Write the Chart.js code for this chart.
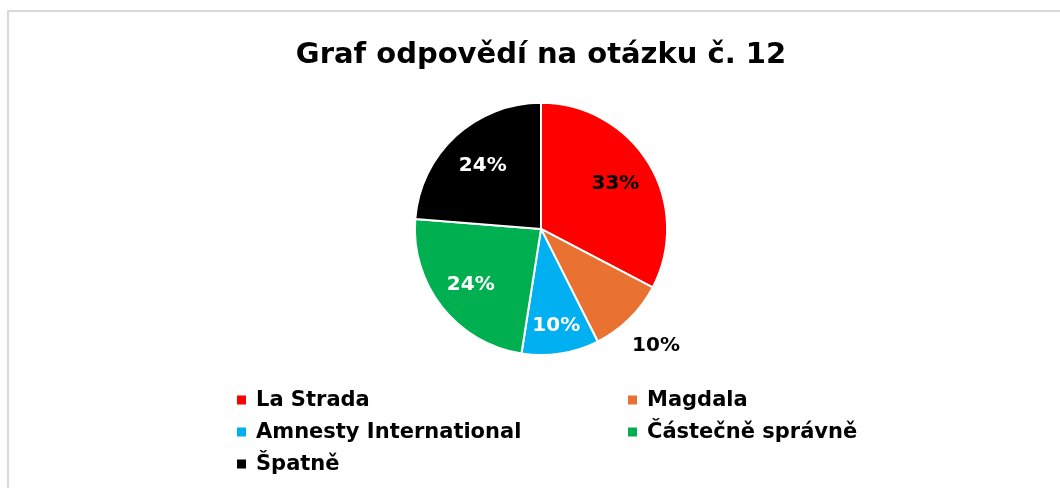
<!DOCTYPE html>
<html>
<head>
<meta charset="utf-8">
<script src="https://cdn.jsdelivr.net/npm/chart.js@4.4.1/dist/chart.umd.min.js"></script>
<style>
  html, body { margin: 0; padding: 0; background: #fff; }
  #wrap { position: relative; width: 1060px; height: 488px; overflow: hidden; }
  #frame {
    position: absolute; left: 7px; top: 10px; width: 1100px; height: 520px;
    border-left: 2px solid #d9d9d9; border-top: 2px solid #d9d9d9;
    pointer-events: none;
  }
  canvas { position: absolute; left: 0; top: 0; }
</style>
</head>
<body>
<div id="wrap">
  <canvas id="pie" width="1060" height="488"></canvas>
  <div id="frame"></div>
</div>
<script>
// data (percent of answers)
const answers = ["La Strada", "Magdala", "Amnesty International", "Částečně správně", "Špatně"];
const shares = [33, 10, 10, 24, 24];
const colors = ["#FF0000", "#E97132", "#00B0F0", "#00B050", "#000000"];
const chartTitle = "Graf odpovědí na otázku č. 12";

const FONT = "'DejaVu Sans', Inter, Arial, sans-serif";

// percent labels on/next to the slices
const sliceLabels = {
    id: "sliceLabels",
    afterDatasetsDraw(chart, args, opts) {
        const ctx = chart.ctx;
        const meta = chart.getDatasetMeta(0);
        const values = chart.data.datasets[0].data;
        ctx.save();
        ctx.font = "bold 20px " + FONT;
        ctx.textAlign = "center";
        ctx.textBaseline = "middle";
        meta.data.forEach((arc, i) => {
            const p = arc.getProps(["x", "y", "startAngle", "endAngle", "outerRadius"], true);
            const mid = (p.startAngle + p.endAngle) / 2;
            const r = p.outerRadius * opts.radius[i];
            ctx.fillStyle = opts.color[i];
            ctx.fillText(values[i] + "%", p.x + Math.cos(mid) * r, p.y + Math.sin(mid) * r);
        });
        ctx.restore();
    }
};

// two column legend under the pie
const gridLegend = {
    id: "gridLegend",
    afterDraw(chart, args, opts) {
        const ctx = chart.ctx;
        const ds = chart.data.datasets[0];
        ctx.save();
        ctx.font = "bold 21px " + FONT;
        ctx.textAlign = "left";
        ctx.textBaseline = "middle";
        chart.data.labels.forEach((lbl, i) => {
            const col = i % 2, row = Math.floor(i / 2);
            const x = opts.left + col * opts.colWidth;
            const y = opts.top + row * opts.rowHeight;
            ctx.fillStyle = ds.backgroundColor[i];
            ctx.fillRect(x, y - 4.5, 9, 9);
            ctx.fillStyle = "#000";
            ctx.fillText(lbl, x + 19, y + 1);
        });
        ctx.restore();
    }
};

new Chart(document.getElementById("pie"), {
    type: "pie",
    data: {
        labels: answers,
        datasets: [{
            data: shares,
            backgroundColor: colors,
            borderColor: "#ffffff",
            borderWidth: 2,
            hoverOffset: 0
        }]
    },
    options: {
        responsive: false,
        animation: false,
        events: [],
        layout: { padding: { top: 0, bottom: 132, left: 22, right: 0 } },
        plugins: {
            legend: { display: false },
            tooltip: { enabled: false },
            title: {
                display: true,
                text: chartTitle,
                color: "#000",
                font: { family: FONT, size: 29, weight: "bold" },
                padding: { top: 38, bottom: 29 }
            },
            sliceLabels: {
                radius: [0.69, 1.3, 0.78, 0.71, 0.68],
                color: ["#000", "#000", "#fff", "#fff", "#fff"]
            },
            gridLegend: { left: 237, top: 400, colWidth: 391, rowHeight: 32 }
        }
    },
    plugins: [sliceLabels, gridLegend]
});
</script>
</body>
</html>
